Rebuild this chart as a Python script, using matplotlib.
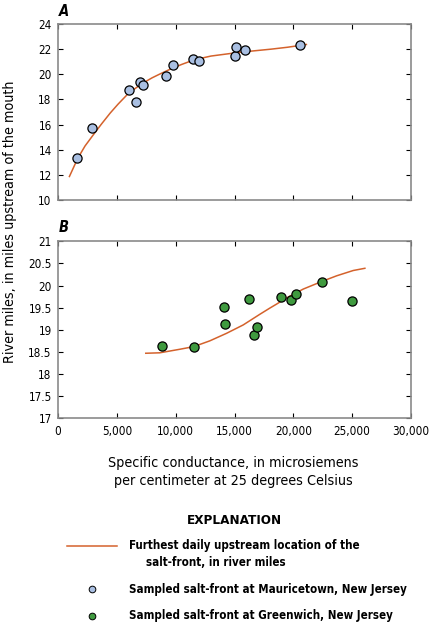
import numpy as np
import matplotlib
matplotlib.use("Agg")
import matplotlib.pyplot as plt
from matplotlib.ticker import FuncFormatter, MultipleLocator

plt.rcParams['font.family'] = ['DejaVu Sans']
plt.rcParams['font.stretch'] = 'condensed'

# Panel A - Mauricetown samples
mau_cond = [1640, 2890, 6010, 6640, 6950, 7260, 9220, 9810, 11510, 11990, 15060, 15140, 15930, 20560]
mau_miles = [13.31, 15.69, 18.73, 17.83, 19.42, 19.16, 19.90, 20.77, 21.19, 21.06, 21.46, 22.20, 21.91, 22.36]

# Panel A - fitted salt-front curve
curve_a_cond = [970, 1680, 2300, 3020, 3700, 4440, 5100, 5870, 6600, 7290, 8000, 8720, 9570,
                10500, 11570, 13000, 15270, 16500, 18120, 19500, 21110]
curve_a_miles = [11.87, 13.32, 14.30, 15.21, 16.05, 16.92, 17.62, 18.37, 18.90, 19.34, 19.72, 20.05, 20.42,
                 20.78, 21.15, 21.45, 21.73, 21.85, 22.00, 22.15, 22.37]

# Panel B - Greenwich samples
grn_cond = [8820, 11540, 14090, 14180, 16190, 16640, 16870, 18940, 19820, 20240, 22440, 25000]
grn_miles = [18.64, 18.62, 19.52, 19.12, 19.70, 18.89, 19.06, 19.73, 19.67, 19.80, 20.07, 19.64]

# Panel B - fitted salt-front curve
curve_b_cond = [7460, 8650, 10350, 11540, 12900, 14320, 15740, 17150, 18000, 18570, 19420, 20840,
                22400, 23680, 25090, 26080]
curve_b_miles = [18.47, 18.48, 18.56, 18.62, 18.75, 18.92, 19.11, 19.35, 19.49, 19.58, 19.72, 19.92,
                 20.09, 20.22, 20.34, 20.39]

line_color = '#d4622c'
blue = '#a9bfe2'
green = '#3f9a3f'
spine_color = '#8a8a8a'

W, H = 429, 625
fig = plt.figure(figsize=(W / 100, H / 100), dpi=100)


def px_axes(left, top, right, bottom):
    return fig.add_axes([left / W, (H - bottom) / H, (right - left) / W, (bottom - top) / H])


def style_axes(ax):
    for s in ax.spines.values():
        s.set_color(spine_color)
        s.set_linewidth(1.2)
    ax.tick_params(direction='in', length=3.8, width=0.8, color='black',
                   top=True, right=True, labelsize=8.4, pad=4.5)
    ax.set_xlim(0, 30000)
    ax.xaxis.set_major_locator(MultipleLocator(5000))


ax_a = px_axes(58, 24, 411, 200)
style_axes(ax_a)
ax_a.plot(curve_a_cond, curve_a_miles, color=line_color, lw=1.1, zorder=2)
ax_a.plot(mau_cond, mau_miles, 'o', ms=6.6, mfc=blue, mec='black', mew=0.9, zorder=3)
ax_a.set_ylim(10, 24)
ax_a.yaxis.set_major_locator(MultipleLocator(2))
ax_a.tick_params(labelbottom=False)

ax_b = px_axes(58, 241.3, 411, 418.3)
style_axes(ax_b)
ax_b.plot(curve_b_cond, curve_b_miles, color=line_color, lw=1.1, zorder=2)
ax_b.plot(grn_cond, grn_miles, 'o', ms=6.6, mfc=green, mec='black', mew=0.9, zorder=3)
ax_b.set_ylim(17, 21)
ax_b.yaxis.set_major_locator(MultipleLocator(0.5))
ax_b.yaxis.set_major_formatter(FuncFormatter(lambda v, p: f'{v:g}'))
ax_b.xaxis.set_major_formatter(FuncFormatter(lambda v, p: f'{int(v):,}'))

# panel letters
fig.text(59 / W, 1 - 11 / H, 'A', fontsize=10.5, fontweight='bold', style='italic', va='center')
fig.text(59 / W, 1 - 227 / H, 'B', fontsize=10.5, fontweight='bold', style='italic', va='center')

# axis titles
fig.text(10 / W, 1 - 221.5 / H, 'River miles, in miles upstream of the mouth',
         rotation=90, ha='center', va='center', fontsize=10.3)
fig.text(233 / W, 1 - 472 / H, 'Specific conductance, in microsiemens\nper centimeter at 25 degrees Celsius',
         ha='center', va='center', fontsize=10.3, linespacing=1.3)

# explanation block
leg = fig.add_axes([0, 0, 1, 1])
leg.set_xlim(0, W)
leg.set_ylim(H, 0)
leg.axis('off')
leg.patch.set_alpha(0)
leg.text(234, 520, 'EXPLANATION', ha='center', va='center', fontsize=9.6, fontweight='bold')
leg.plot([67, 117], [545.7, 545.7], color=line_color, lw=1.1)
leg.text(129, 545.7, 'Furthest daily upstream location of the', va='center', fontsize=8.3, fontweight='bold')
leg.text(146, 562.5, 'salt-front, in river miles', va='center', fontsize=8.3, fontweight='bold')
leg.plot([92], [589], 'o', ms=4.8, mfc=blue, mec='black', mew=0.7)
leg.text(129, 589, 'Sampled salt-front at Mauricetown, New Jersey', va='center', fontsize=8.3, fontweight='bold')
leg.plot([92], [615.5], 'o', ms=4.8, mfc=green, mec='black', mew=0.7)
leg.text(129, 615.5, 'Sampled salt-front at Greenwich, New Jersey', va='center', fontsize=8.3, fontweight='bold')

fig.savefig('out.png', dpi=100)
